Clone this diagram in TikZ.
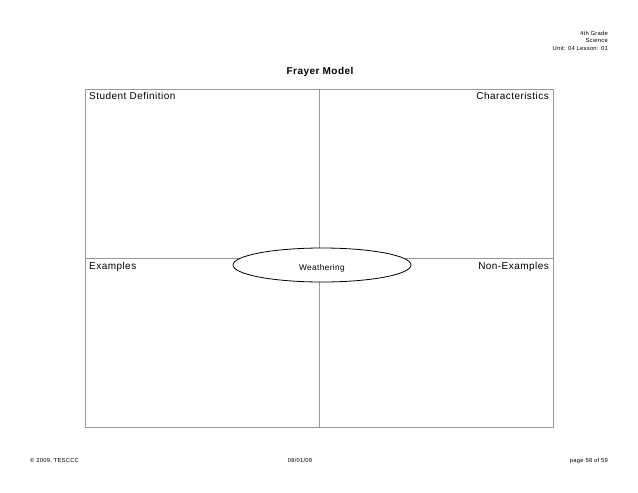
\documentclass[tikz,border=0pt]{standalone}
\usepackage{fontspec}
\setmainfont{Liberation Sans}
\newfontfamily\spaced{Liberation Sans}[LetterSpace=4.5]
\usetikzlibrary{shapes.geometric}
\begin{document}
\begin{tikzpicture}[x=1pt,y=-1pt,
  gridline/.style={draw=black!40,line width=0.8pt},
  small/.style={font=\spaced\fontsize{5.8}{6.5}\selectfont,inner sep=0pt},
  lab/.style={font=\spaced\fontsize{10}{11}\selectfont,inner sep=0pt}]
\useasboundingbox[fill=white] (0,0) rectangle (638,493);
\node[small,anchor=east] (g) at (608,33) {4th Grade};
\node[small,anchor=east] (s) at (608,40.5) {Science};
\node[small,anchor=east] (u) at (608,48) {Unit: 04 Lesson: 01};
\node[font=\spaced\bfseries\fontsize{10}{11}\selectfont,inner sep=0pt] (t) at (320,72) {Frayer Model};
\coordinate (tl) at (85,89);
\coordinate (br) at (553,427);
\coordinate (mt) at (319,89);
\coordinate (mb) at (319,427);
\coordinate (ml) at (85,258);
\coordinate (mr) at (553,258);
\draw[gridline] (tl) rectangle (br);
\draw[gridline] (mt) -- (mb);
\draw[gridline] (ml) -- (mr);
\node[lab,anchor=west] (sd) at (89,96) {Student Definition};
\node[lab,anchor=east] (ch) at (549,96) {Characteristics};
\node[lab,anchor=west] (ex) at (89,267) {Examples};
\node[lab,anchor=east] (ne) at (549,267) {Non-Examples};
\node[ellipse,draw=black,line width=0.8pt,fill=white,minimum width=178pt,minimum height=34pt,inner sep=0pt,font=\spaced\fontsize{8.3}{9}\selectfont] (w) at (322,265) {\raisebox{-5.5pt}[0pt][0pt]{Weathering}};
\node[small,anchor=base west] (c) at (30,462) {© 2009, TESCCC};
\node[small,anchor=base] (d) at (300,462) {08/01/09};
\node[small,anchor=base east] (p) at (608,462) {page 58 of 59};
\end{tikzpicture}
\end{document}
